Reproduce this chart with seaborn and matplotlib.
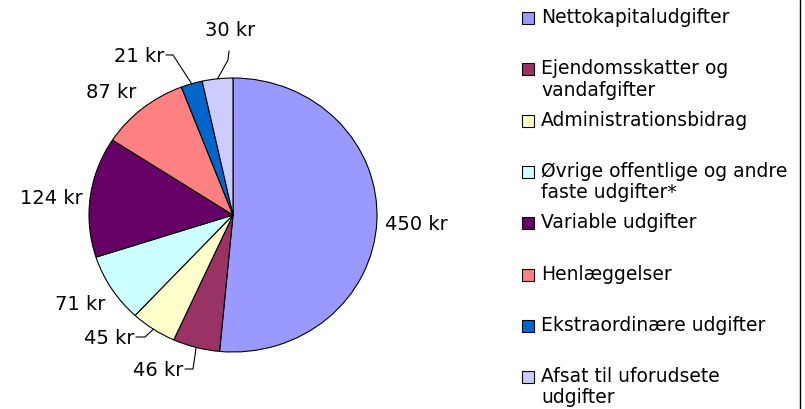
import matplotlib
matplotlib.use("Agg")
import matplotlib.pyplot as plt
from matplotlib.patches import Rectangle
from matplotlib.lines import Line2D
import numpy as np
import seaborn as sns

# Data
categories = [
    "Nettokapitaludgifter",
    "Ejendomsskatter og\nvandafgifter",
    "Administrationsbidrag",
    "Øvrige offentlige og andre\nfaste udgifter*",
    "Variable udgifter",
    "Henlæggelser",
    "Ekstraordinære udgifter",
    "Afsat til uforudsete\nudgifter",
]
values = [450, 46, 45, 71, 124, 87, 21, 30]
value_labels = [f"{v} kr" for v in values]
colors = ["#9999FF", "#993366", "#FFFFCC", "#CCFFFF",
          "#660066", "#FF8080", "#0066CC", "#CCCCFF"]

# Layout in pixels
W, H = 805, 409
CX, CY, RX, RY = 233, 215, 144, 137
FS_LABEL = 14
FS_LEGEND = 13.5

sns.set_theme(style="white")
plt.rcParams['font.family'] = ['DejaVu Sans']


def px(x, y):
    # pixel position (from top-left) -> pie data units
    return (x - CX) / RX, (CY - y) / RY


fig = plt.figure(figsize=(W / 100, H / 100), dpi=100)
ax = fig.add_axes([0, 0, 1, 1])
wedges, _ = ax.pie(values, colors=sns.color_palette(colors), startangle=90,
                   counterclock=False,
                   wedgeprops=dict(edgecolor='black', linewidth=0.8))
ax.set_aspect('auto')
ax.set_xlim(-CX / RX, (W - CX) / RX)
ax.set_ylim(-(H - CY) / RY, CY / RY)
ax.axis('off')

# value labels: text position, alignment, leader elbow and end (pixels)
label_layout = [
    ((416, 225), 'center', None, None),
    ((183, 370), 'right', (193, 369), (185, 369)),
    ((134, 338), 'right', (145, 337), (136, 337)),
    ((80, 304), 'center', None, None),
    ((51, 198), 'center', None, None),
    ((111, 92), 'center', None, None),
    ((164, 56), 'right', (173, 55), (166, 55)),
    ((230, 31), 'center', (228, 60), (229, 51)),
]

for w, lab, (tpos, ha, elbow, end) in zip(wedges, value_labels, label_layout):
    tx, ty = px(*tpos)
    ax.text(tx, ty, lab, ha=ha, va='center', fontsize=FS_LABEL, color='black')
    if elbow is not None:
        mid = np.deg2rad((w.theta1 + w.theta2) / 2)
        ex, ey = np.cos(mid), np.sin(mid)
        bx, by = px(*elbow)
        nx, ny = px(*end)
        ax.plot([ex, bx, nx], [ey, by, ny], color='black', lw=0.8,
                solid_joinstyle='miter')

# legend drawn by hand so wrapped entries keep the first line on the marker
for i, (cat, col) in enumerate(zip(categories, colors)):
    yc = 18 + i * 51.3
    fig.add_artist(Rectangle((522 / W, 1 - (yc + 6) / H), 12 / W, 12 / H,
                             transform=fig.transFigure, facecolor=col,
                             edgecolor='black', linewidth=0.8))
    fig.text(541 / W, 1 - (yc - 10) / H, cat, ha='left', va='top',
             fontsize=FS_LEGEND, color='black', linespacing=1.15)

# right border of the chart area
fig.add_artist(Line2D([799.5 / W] * 2, [0, 1], transform=fig.transFigure,
                      color='black', lw=1))

fig.savefig('out.png', dpi=100)
